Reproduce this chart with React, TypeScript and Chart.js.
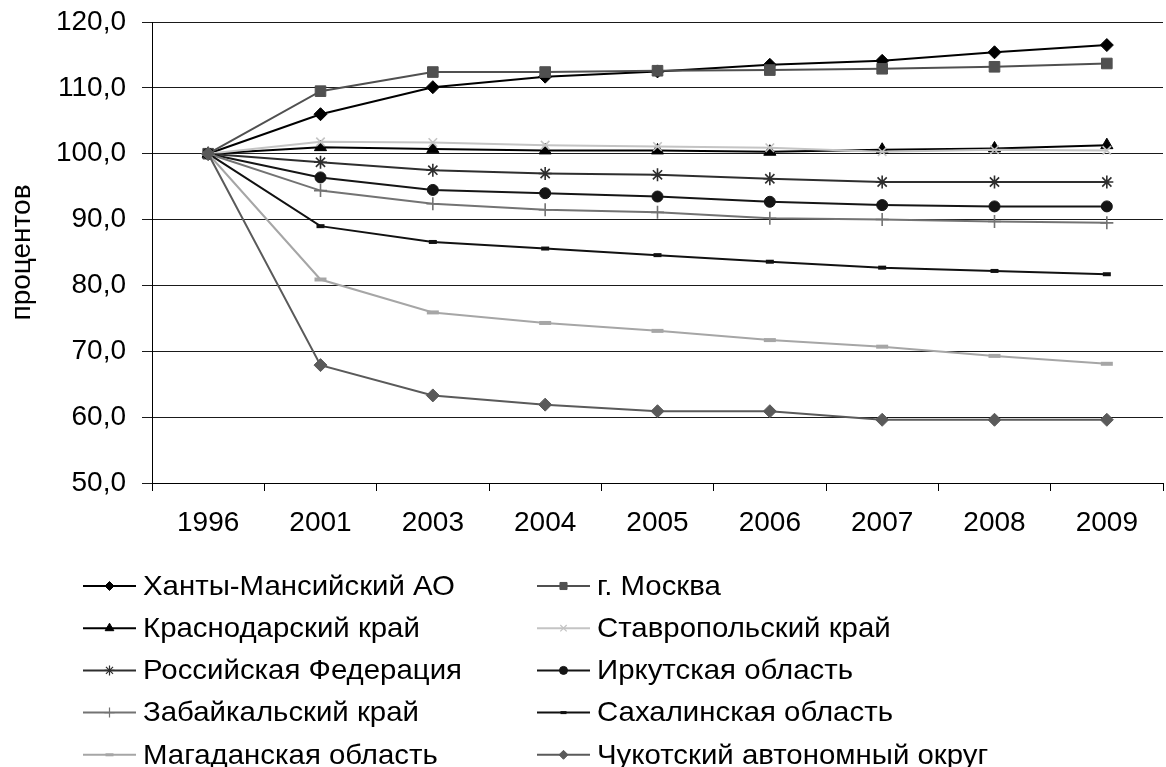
import React, { useEffect, useRef } from 'react';
import { Chart, registerables } from 'chart.js';
import * as helpers from 'chart.js/helpers';

Chart.register(...registerables);

const years = ['1996', '2001', '2003', '2004', '2005', '2006', '2007', '2008', '2009'];

const khanty = [100, 106.0, 110.1, 111.7, 112.5, 113.5, 114.1, 115.4, 116.5];
const moscow = [100, 109.5, 112.4, 112.4, 112.6, 112.7, 112.9, 113.2, 113.7];
const krasnodar = [100, 101.0, 100.7, 100.5, 100.5, 100.3, 100.6, 100.8, 101.3];
const stavropol = [100, 101.8, 101.7, 101.3, 101.1, 100.9, 100.3, 100.6, 100.5];
const russia = [100, 98.7, 97.5, 97.0, 96.8, 96.2, 95.7, 95.7, 95.7];
const irkutsk = [100, 96.4, 94.5, 94.0, 93.5, 92.7, 92.2, 92.0, 92.0];
const zabaikal = [100, 94.4, 92.4, 91.5, 91.1, 90.2, 90.0, 89.7, 89.5];
const sakhalin = [100, 89.0, 86.6, 85.6, 84.6, 83.6, 82.7, 82.2, 81.7];
const magadan = [100, 80.9, 75.9, 74.3, 73.1, 71.7, 70.7, 69.3, 68.1];
const chukotka = [100, 67.9, 63.3, 61.9, 60.9, 60.9, 59.6, 59.6, 59.6];

const yTitle = 'процентов';
const FONT = '"Liberation Sans", Arial, sans-serif';
const FS = 28;

type S = {
  label: string; data: number[]; color: string; style: string; r: number; bw: number; lr: number; lbw: number;
};

const series: S[] = [
  { label: 'Ханты-Мансийский АО', data: khanty, color: '#000000', style: 'rectRot', r: 6.5, bw: 1, lr: 4.5, lbw: 1 },
  { label: 'г. Москва', data: moscow, color: '#505050', style: 'rect', r: 7.5, bw: 1, lr: 5, lbw: 1 },
  { label: 'Краснодарский край', data: krasnodar, color: '#000000', style: 'triangle', r: 7, bw: 1, lr: 5, lbw: 1 },
  { label: 'Ставропольский край', data: stavropol, color: '#c4c4c4', style: 'crossRot', r: 6, bw: 1.6, lr: 4.5, lbw: 1.2 },
  { label: 'Российская Федерация', data: russia, color: '#2e2e2e', style: 'star', r: 6.5, bw: 1.6, lr: 5, lbw: 1.2 },
  { label: 'Иркутская область', data: irkutsk, color: '#151515', style: 'circle', r: 5.5, bw: 1, lr: 4, lbw: 1 },
  { label: 'Забайкальский край', data: zabaikal, color: '#737373', style: 'cross', r: 6.5, bw: 1.6, lr: 5, lbw: 1.2 },
  { label: 'Сахалинская область', data: sakhalin, color: '#111111', style: 'line', r: 4, bw: 4, lr: 3, lbw: 3 },
  { label: 'Магаданская область', data: magadan, color: '#a6a6a6', style: 'line', r: 6, bw: 4, lr: 4, lbw: 3 },
  { label: 'Чукотский автономный округ', data: chukotka, color: '#5a5a5a', style: 'rectRot', r: 6.5, bw: 1, lr: 4.5, lbw: 1 },
];

const LEG_X = [83, 537];
const LEG_LINE = 53;
const LEG_GAP = 7;
const LEG_Y0 = 586;
const LEG_DY = 42.2;
const LEG_STRETCH = 1.05;

const legendPlugin = {
  id: 'customLegend',
  afterDraw(chart: any) {
    const ctx = chart.ctx;
    ctx.save();
    series.forEach((s, i) => {
      const col = i % 2;
      const row = Math.floor(i / 2);
      const x0 = LEG_X[col];
      const y = LEG_Y0 + row * LEG_DY;
      ctx.strokeStyle = s.color;
      ctx.lineWidth = 2;
      ctx.beginPath();
      ctx.moveTo(x0, y);
      ctx.lineTo(x0 + LEG_LINE, y);
      ctx.stroke();
      ctx.fillStyle = s.color;
      ctx.strokeStyle = s.color;
      ctx.lineWidth = s.lbw;
      helpers.drawPoint(ctx, { pointStyle: s.style, radius: s.lr, borderWidth: s.lbw, rotation: 0 } as any, x0 + LEG_LINE / 2, y);
      const tx = x0 + LEG_LINE + LEG_GAP;
      ctx.save();
      ctx.translate(tx, y + 1);
      ctx.scale(LEG_STRETCH, 1);
      ctx.font = `${FS}px ${FONT}`;
      ctx.textBaseline = 'middle';
      ctx.textAlign = 'left';
      ctx.fillStyle = '#000';
      ctx.fillText(s.label, 0, 0);
      ctx.restore();
    });
    ctx.restore();
  },
};

export default function App() {
  const ref = useRef<HTMLCanvasElement>(null);
  useEffect(() => {
    document.body.style.margin = '0';
    const canvas = ref.current!;
    const chart = new Chart(canvas, {
      type: 'line',
      data: {
        labels: years,
        datasets: series.map((s, i) => ({
          label: s.label,
          data: s.data,
          borderColor: s.color,
          backgroundColor: s.color,
          borderWidth: 2,
          pointStyle: s.style as any,
          pointRadius: s.r,
          pointHoverRadius: s.r,
          pointBorderWidth: s.bw,
          pointBackgroundColor: s.color,
          pointBorderColor: s.color,
          tension: 0,
          clip: false as any,
          order: series.length - i,
        })),
      },
      options: {
        responsive: false,
        animation: false,
        devicePixelRatio: 1,
        layout: { autoPadding: false, padding: { top: 22, right: 3, bottom: 0, left: 0 } },
        plugins: {
          legend: { display: false },
          tooltip: { enabled: false },
        },
        scales: {
          x: {
            type: 'category',
            offset: true,
            grid: { offset: true, drawOnChartArea: false, drawTicks: true, tickLength: 8, color: '#000' },
            border: { display: true, color: '#000', width: 1 },
            ticks: { font: { size: FS, family: FONT }, color: '#000', padding: 15, maxRotation: 0, autoSkip: false },
            afterFit: (scale: any) => { scale.height = 284; scale.paddingLeft = 0; scale.paddingRight = 0; },
          },
          y: {
            min: 50,
            max: 120,
            ticks: {
              stepSize: 10,
              font: { size: FS, family: FONT, lineHeight: 1 },
              color: '#000',
              padding: 16,
              callback: (v: any) => Number(v).toFixed(1).replace('.', ','),
            },
            grid: { color: '#1a1a1a', lineWidth: 1, drawTicks: true, tickLength: 10 },
            border: { display: true, color: '#000', width: 1 },
            title: { display: true, text: yTitle, font: { size: FS, family: FONT }, color: '#000', padding: { top: 5, bottom: 0 } },
            afterFit: (scale: any) => { scale.width = 152; scale.paddingTop = 0; scale.paddingBottom = 0; },
          },
        },
      },
      plugins: [legendPlugin],
    });
    return () => chart.destroy();
  }, []);
  return (
    <div style={{ width: 1166, height: 767 }}>
      <canvas ref={ref} width={1166} height={767} style={{ display: 'block' }} />
    </div>
  );
}
